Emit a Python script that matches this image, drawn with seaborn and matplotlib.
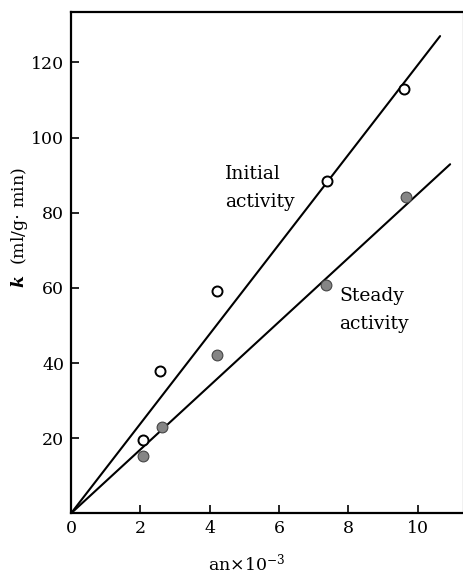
import matplotlib
matplotlib.use("Agg")
import matplotlib.pyplot as plt
import seaborn as sns
import pandas as pd

# Data
initial_x = [2.08, 2.58, 4.20, 7.40, 9.60]
initial_k = [19.5, 37.9, 59.2, 88.5, 112.8]
steady_x = [2.08, 2.64, 4.22, 7.37, 9.67]
steady_k = [15.4, 22.9, 42.1, 60.8, 84.3]
# Fitted straight lines (through the origin)
initial_line_x = [0.0, 10.65]
initial_line_k = [0.0, 127.0]
steady_line_x = [0.0, 10.94]
steady_line_k = [0.0, 92.9]

x_ticks = [0, 2, 4, 6, 8, 10]
y_ticks = [20, 40, 60, 80, 100, 120]

sns.set_theme(style="white")
plt.rcParams["font.family"] = ["DejaVu Serif"]
plt.rcParams["mathtext.fontset"] = "custom"
plt.rcParams["mathtext.rm"] = "DejaVu Serif"
plt.rcParams["mathtext.it"] = "DejaVu Serif:italic:bold"
plt.rcParams["text.color"] = "black"
plt.rcParams["axes.labelcolor"] = "black"

fig = plt.figure(figsize=(4.64, 5.73), dpi=100)
ax = fig.add_axes([0.153, 0.104, 0.844, 0.875])

df_i = pd.DataFrame({"x": initial_x, "k": initial_k})
df_s = pd.DataFrame({"x": steady_x, "k": steady_k})
df_li = pd.DataFrame({"x": initial_line_x, "k": initial_line_k})
df_ls = pd.DataFrame({"x": steady_line_x, "k": steady_line_k})

sns.lineplot(data=df_li, x="x", y="k", ax=ax, color="black", lw=1.5, zorder=2)
sns.lineplot(data=df_ls, x="x", y="k", ax=ax, color="black", lw=1.5, zorder=2)
sns.scatterplot(data=df_i, x="x", y="k", ax=ax, s=52, facecolor="white",
                edgecolor="black", linewidth=1.4, zorder=3)
sns.scatterplot(data=df_s, x="x", y="k", ax=ax, s=60, color="#858585",
                edgecolor="#444444", linewidth=0.8, zorder=3)

ax.set_xlim(0, 11.3)
ax.set_ylim(0, 133.4)
ax.set_xticks(x_ticks)
ax.set_yticks(y_ticks)
ax.tick_params(direction="in", length=6, width=1.2, labelsize=12.5, colors="black",
               pad=5, bottom=True, left=True)
for side in ["left", "bottom", "top"]:
    ax.spines[side].set_linewidth(1.6)
    ax.spines[side].set_color("black")
ax.spines["right"].set_linewidth(0.8)
ax.spines["right"].set_color("black")

ax.set_xlabel(r"an$\times$10$^{-3}$", fontsize=12.5)
ax.xaxis.set_label_coords(0.449, -0.078)
ax.set_ylabel(r"$k$  (ml/g$\cdot$ min)", fontsize=12.5)
ax.yaxis.set_label_coords(-0.105, 0.57)

ax.text(4.44, 86.6, "Initial\nactivity", fontsize=13.5, ha="left", va="center",
        linespacing=1.7)
ax.text(7.75, 54.1, "Steady\nactivity", fontsize=13.5, ha="left", va="center",
        linespacing=1.7)

fig.savefig("out.png", dpi=100)
